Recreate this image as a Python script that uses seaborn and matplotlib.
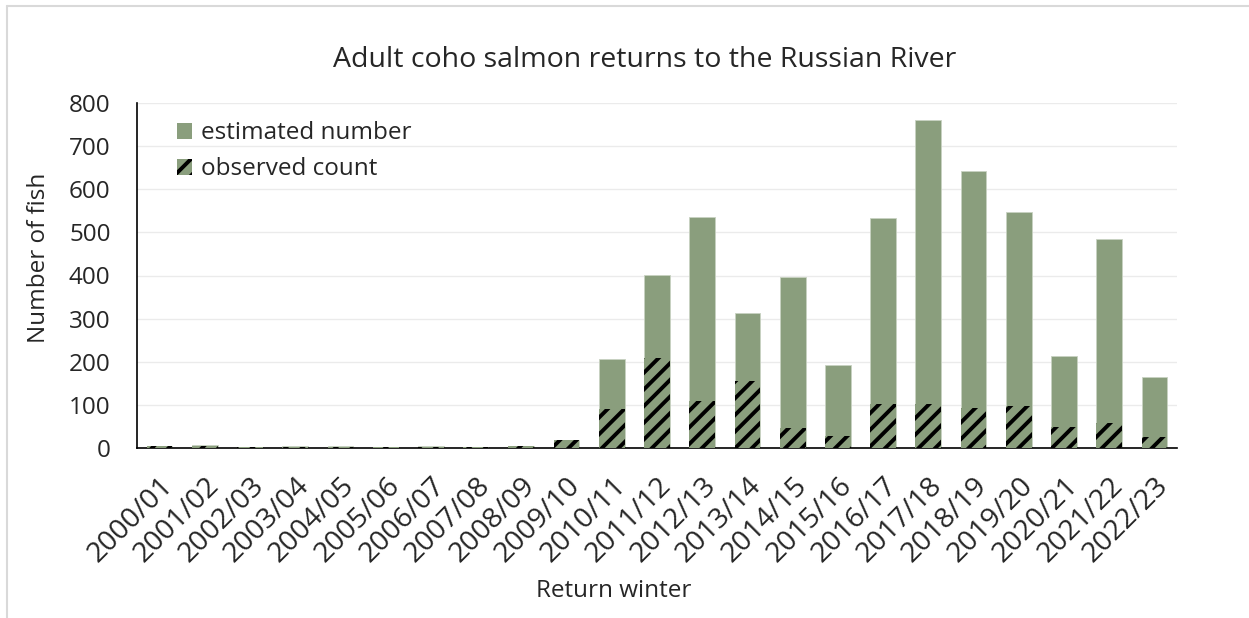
import matplotlib
matplotlib.use("Agg")
import matplotlib.pyplot as plt
import seaborn as sns
import pandas as pd
import numpy as np
from matplotlib.lines import Line2D
from matplotlib.patches import Patch

seasons = ["2000/01", "2001/02", "2002/03", "2003/04", "2004/05", "2005/06",
           "2006/07", "2007/08", "2008/09", "2009/10", "2010/11", "2011/12",
           "2012/13", "2013/14", "2014/15", "2015/16", "2016/17", "2017/18",
           "2018/19", "2019/20", "2020/21", "2021/22", "2022/23"]
estimated = [5, 6, 1, 3, 3, 1, 3, 1, 4, 17, 205, 401, 535, 312, 397, 191,
             533, 762, 642, 547, 213, 484, 164]
observed = [4, 5, 1, 2, 2, 1, 2, 1, 3, 17, 89, 208, 108, 155, 46, 28,
            101, 101, 92, 98, 47, 58, 26]
yticks = [0, 100, 200, 300, 400, 500, 600, 700, 800]

GREEN = "#8a9e7d"
FS = 17.5

sns.set_theme(style="white")
plt.rcParams["font.family"] = ["Open Sans", "DejaVu Sans"]
plt.rcParams["hatch.linewidth"] = 2.8

df = pd.DataFrame({"season": seasons, "estimated": estimated, "observed": observed})

fig = plt.figure(figsize=(12.49, 6.18), dpi=100)
ax = fig.add_axes([137 / 1249, 1 - 447.7 / 618, 1040 / 1249, 344.4 / 618])

sns.barplot(data=df, x="season", y="estimated", color=GREEN, width=0.57,
            saturation=1, ax=ax, edgecolor="#c8d2c2", linewidth=0.6, zorder=2)
n_first = len(ax.patches)
sns.barplot(data=df, x="season", y="observed", color=GREEN, width=0.57,
            saturation=1, ax=ax, edgecolor="black", linewidth=0, zorder=3)
for p in ax.patches[n_first:]:
    p.set_hatch("//")

ax.set_xlim(-0.5, len(seasons) - 0.5)
ax.set_ylim(0, 800)
ax.set_yticks(yticks)
ax.set_yticklabels([str(v) for v in yticks], fontsize=FS)
ax.set_xticks(range(len(seasons)))
ax.set_xticklabels(seasons, rotation=45, ha="right", rotation_mode="anchor", fontsize=20.5)
ax.set_xticks(np.arange(-0.5, len(seasons), 1.0), minor=True)
ax.tick_params(axis="x", which="major", length=0, pad=17)
ax.tick_params(axis="x", which="minor", length=6.5, width=1, color="black", direction="out")
ax.tick_params(axis="y", length=7, width=1, color="black", direction="out", pad=12)
ax.yaxis.grid(True, color="#ebebeb", linewidth=1, zorder=0)
ax.set_axisbelow(True)
for s in ["top", "right"]:
    ax.spines[s].set_visible(False)
for s in ["left", "bottom"]:
    ax.spines[s].set_color("black")
    ax.spines[s].set_linewidth(1.2)
ax.set_xlabel("")
ax.set_ylabel("")

fig.text(645 / 1249, 1 - 60 / 618, "Adult coho salmon returns to the Russian River",
         ha="center", va="center", fontsize=20.5)
fig.text(614 / 1249, 1 - 591 / 618, "Return winter", ha="center", va="center", fontsize=FS)
fig.text(39 / 1249, 1 - 258 / 618, "Number of fish", ha="center", va="center",
         rotation=90, fontsize=FS)

handles = [Patch(facecolor=GREEN, edgecolor="none", label="estimated number"),
           Patch(facecolor=GREEN, edgecolor="black", linewidth=0, hatch="//", label="observed count")]
leg = ax.legend(handles=handles, loc="upper left", bbox_to_anchor=(0.038, 0.948),
                frameon=False, fontsize=FS, handlelength=0.62, handleheight=0.62,
                handletextpad=0.4, labelspacing=0.5, borderaxespad=0, borderpad=0)

fig.add_artist(Line2D([7 / 1249, 1], [1 - 6 / 618, 1 - 6 / 618], color="#d9d9d9",
                      linewidth=1.5, transform=fig.transFigure))
fig.add_artist(Line2D([7 / 1249, 7 / 1249], [0, 1 - 6 / 618], color="#d9d9d9",
                      linewidth=1.5, transform=fig.transFigure))

fig.savefig("out.png", dpi=100, facecolor="white")
